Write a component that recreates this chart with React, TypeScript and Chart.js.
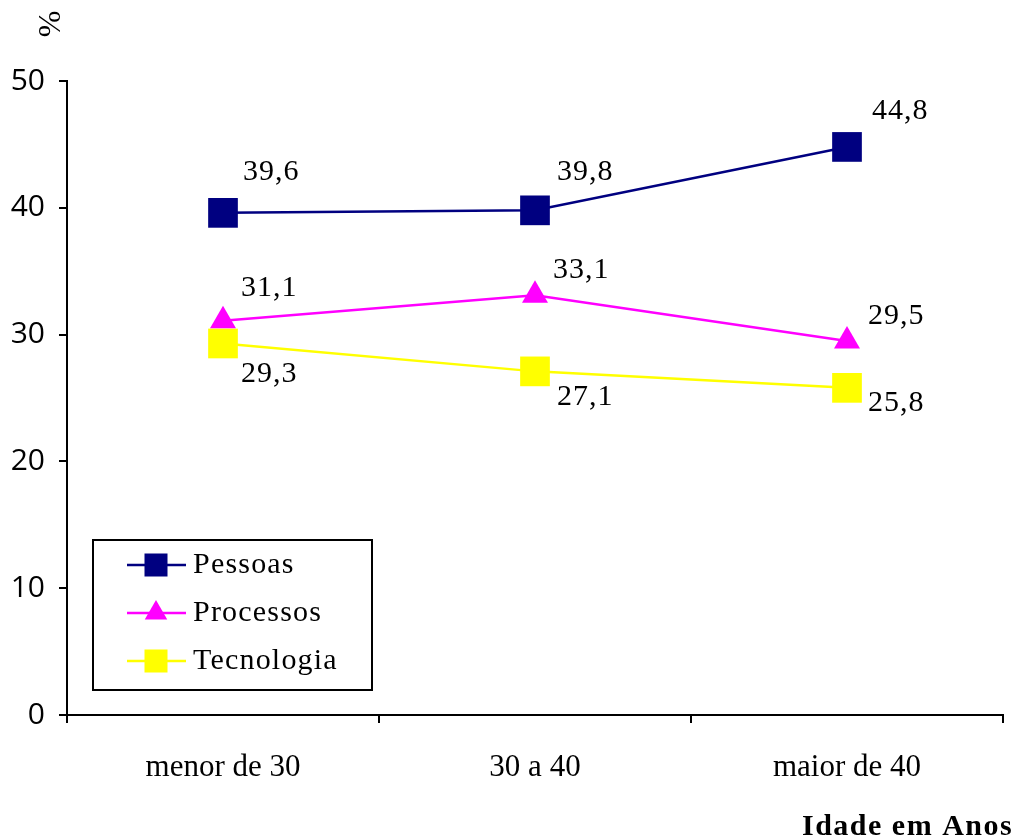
import React, { useEffect, useRef } from 'react';
import { Chart, registerables } from 'chart.js';

Chart.register(...registerables);

// Age groups on the category axis
const categories = ['menor de 30', '30 a 40', 'maior de 40'];

// Percent share per focus area
const pessoas = [39.6, 39.8, 44.8];
const processos = [31.1, 33.1, 29.5];
const tecnologia = [29.3, 27.1, 25.8];

// Value-axis ticks
const yTicks = [0, 10, 20, 30, 40, 50];

const SERIF = '"Liberation Serif", "Times New Roman", serif';
const SANS = '"Open Sans", "Liberation Sans", sans-serif';

const fmt = (v: number) => v.toFixed(1).replace('.', ',');

// Label offsets (px) relative to each point's centre
const labelOffsets: Record<string, [number, number][]> = {
  Pessoas: [[20, -41], [22, -38], [25, -36]],
  Processos: [[18, -33], [18, -25], [21, -25]],
  Tecnologia: [[18, 31], [22, 26], [21, 15]],
};

const valueLabels = {
  id: 'valueLabels',
  afterDatasetsDraw(chart: any) {
    const ctx = chart.ctx;
    ctx.save();
    ctx.font = `30px ${SERIF}`;
    ctx.fillStyle = '#000';
    ctx.textAlign = 'left';
    ctx.textBaseline = 'middle';
    (ctx as any).letterSpacing = '1px';
    chart.data.datasets.forEach((ds: any, i: number) => {
      const meta = chart.getDatasetMeta(i);
      const offs = labelOffsets[ds.label];
      meta.data.forEach((pt: any, j: number) => {
        const [dx, dy] = offs[j];
        ctx.fillText(fmt(ds.data[j]), pt.x + dx, pt.y + dy);
      });
    });
    ctx.restore();
  },
};

const decorations = {
  id: 'decorations',
  afterDraw(chart: any) {
    const ctx = chart.ctx;
    ctx.save();
    // Unit marker above the value axis
    ctx.font = `32px ${SERIF}`;
    ctx.fillStyle = '#000';
    ctx.translate(52, 24);
    ctx.rotate(-Math.PI / 2);
    ctx.textAlign = 'center';
    ctx.textBaseline = 'middle';
    ctx.fillText('%', 0, 0);
    ctx.restore();

    // Category axis title
    ctx.save();
    ctx.font = `bold 30px ${SERIF}`;
    (ctx as any).letterSpacing = '1.5px';
    ctx.fillStyle = '#000';
    ctx.textAlign = 'left';
    ctx.textBaseline = 'middle';
    ctx.fillText('Idade em Anos', 802, 827);
    ctx.restore();

    // Legend box
    ctx.save();
    const bx = 93, by = 540, bw = 279, bh = 150;
    ctx.fillStyle = '#fff';
    ctx.fillRect(bx, by, bw, bh);
    ctx.strokeStyle = '#000';
    ctx.lineWidth = 2;
    ctx.strokeRect(bx, by, bw, bh);
    const rows = [565, 613, 661];
    chart.data.datasets.forEach((ds: any, i: number) => {
      const y = rows[i];
      ctx.strokeStyle = ds.borderColor;
      ctx.lineWidth = 2.5;
      ctx.beginPath();
      ctx.moveTo(127, y);
      ctx.lineTo(186, y);
      ctx.stroke();
      ctx.fillStyle = ds.backgroundColor;
      if (ds.pointStyle === 'triangle') {
        const r = 13;
        ctx.beginPath();
        ctx.moveTo(156, y - r);
        ctx.lineTo(156 + r * 0.866, y + r / 2);
        ctx.lineTo(156 - r * 0.866, y + r / 2);
        ctx.closePath();
        ctx.fill();
      } else {
        ctx.fillRect(156 - 11.5, y - 11.5, 23, 23);
      }
      ctx.fillStyle = '#000';
      ctx.font = `30px ${SERIF}`;
      (ctx as any).letterSpacing = '1.2px';
      ctx.textAlign = 'left';
      ctx.textBaseline = 'middle';
      ctx.fillText(ds.label, 193, y);
    });
    ctx.restore();
  },
};

export default function App() {
  const ref = useRef<HTMLCanvasElement>(null);

  useEffect(() => {
    if (!ref.current) return;
    const chart = new Chart(ref.current, {
      type: 'line',
      data: {
        labels: categories,
        datasets: [
          {
            label: 'Pessoas',
            data: pessoas,
            borderColor: '#000080',
            backgroundColor: '#000080',
            borderWidth: 2.5,
            pointStyle: 'rect',
            pointRadius: 21,
            pointBorderWidth: 0,
            tension: 0,
          },
          {
            label: 'Processos',
            data: processos,
            borderColor: '#FF00FF',
            backgroundColor: '#FF00FF',
            borderWidth: 2.5,
            pointStyle: 'triangle',
            pointRadius: 15,
            pointBorderWidth: 0,
            tension: 0,
          },
          {
            label: 'Tecnologia',
            data: tecnologia,
            borderColor: '#FFFF00',
            backgroundColor: '#FFFF00',
            borderWidth: 2.5,
            pointStyle: 'rect',
            pointRadius: 21,
            pointBorderWidth: 0,
            tension: 0,
          },
        ],
      },
      options: {
        responsive: false,
        animation: false,
        layout: { padding: { top: 81, right: 24, left: 0, bottom: 0 } },
        plugins: {
          legend: { display: false },
          tooltip: { enabled: false },
        },
        scales: {
          x: {
            type: 'category',
            offset: true,
            afterFit: (s: any) => { s.height = 124; },
            border: { color: '#000', width: 2 },
            grid: {
              display: true,
              offset: true,
              drawOnChartArea: false,
              drawTicks: true,
              tickLength: 8,
              color: '#000',
              lineWidth: 2,
            },
            ticks: {
              color: '#000',
              padding: 26,
              font: { family: SERIF, size: 31 },
            },
          },
          y: {
            min: 0,
            max: 50,
            afterFit: (s: any) => { s.width = 67; },
            afterBuildTicks: (s: any) => { s.ticks = yTicks.map((v) => ({ value: v })); },
            border: { color: '#000', width: 2 },
            grid: {
              display: true,
              drawOnChartArea: false,
              drawTicks: true,
              tickLength: 8,
              color: '#000',
              lineWidth: 2,
            },
            ticks: {
              color: '#000',
              padding: 14,
              font: { family: SANS, size: 30 },
            },
          },
        },
      },
      plugins: [valueLabels, decorations],
    });
    return () => chart.destroy();
  }, []);

  return (
    <div style={{ position: 'absolute', left: 0, top: 0, width: 1027, height: 839, background: '#fff' }}>
      <canvas ref={ref} width={1027} height={839} />
    </div>
  );
}
